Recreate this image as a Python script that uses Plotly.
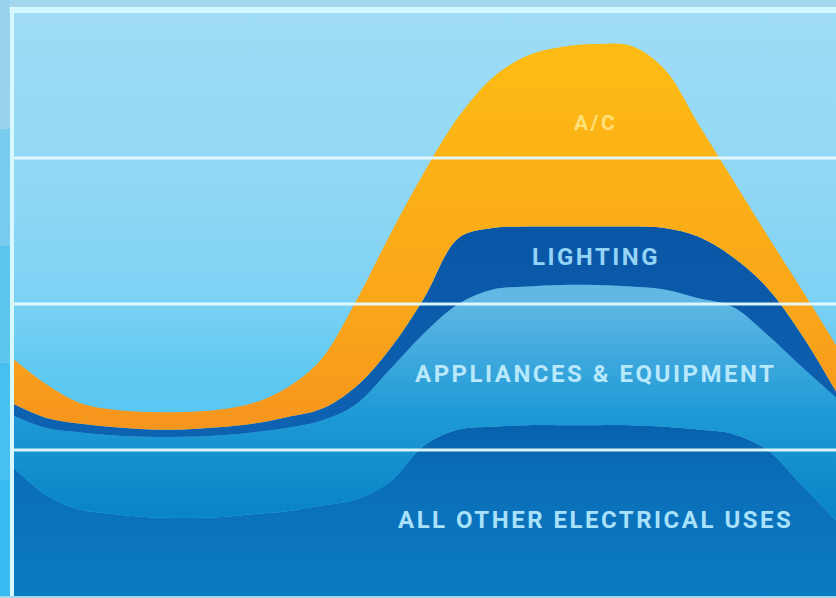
import plotly.graph_objects as go

# Hour of day (0-24) for each sample of the daily load profile
hours = list(range(25))

# Stacked electricity demand by end use (arbitrary load units)
all_other = [0.89, 0.69, 0.59, 0.56, 0.54, 0.54, 0.54, 0.56, 0.58, 0.62, 0.66, 0.78, 1.03,
             1.14, 1.16, 1.17, 1.17, 1.17, 1.17, 1.16, 1.14, 1.11, 1.00, 0.76, 0.52]
appliances = [0.35, 0.46, 0.53, 0.54, 0.55, 0.55, 0.56, 0.56, 0.57, 0.58, 0.65, 0.77, 0.77,
              0.86, 0.94, 0.95, 0.96, 0.96, 0.95, 0.94, 0.90, 0.87, 0.79, 0.81, 0.84]
lighting = [0.08, 0.07, 0.06, 0.055, 0.05, 0.05, 0.055, 0.06, 0.075, 0.08, 0.12, 0.14, 0.24,
            0.45, 0.42, 0.41, 0.40, 0.40, 0.41, 0.42, 0.42, 0.34, 0.32, 0.22, 0.04]
ac = [0.31, 0.23, 0.14, 0.12, 0.12, 0.12, 0.12, 0.14, 0.20, 0.34, 0.58, 0.78, 0.86,
      0.83, 1.03, 1.17, 1.23, 1.25, 1.24, 1.09, 0.77, 0.53, 0.36, 0.31, 0.32]

series_names = ["ALL OTHER ELECTRICAL USES", "APPLIANCES & EQUIPMENT", "LIGHTING", "A/C"]
label_hour = [17.0, 17.0, 17.0, 17.0]
label_level = [0.52, 1.52, 2.32, 3.24]
label_colors = ["#a9e1fa", "#b8e8fb", "#93d3f6", "#ffe07a"]
label_sizes = [24, 24, 24, 21]

Y_MAX = 4
grid_levels = [1, 2, 3]

fig = go.Figure()

# sky-blue backdrop with a vertical gradient
fig.add_trace(go.Scatter(
    x=[0, 24, 24, 0, 0], y=[0, 0, Y_MAX, Y_MAX, 0],
    mode="lines", line=dict(width=0), fill="toself",
    fillgradient=dict(type="vertical", start=0, stop=Y_MAX,
                      colorscale=[[0, "#3fbdf0"], [0.38, "#5fc9f2"], [0.52, "#7fd2f4"],
                                  [0.75, "#93d9f5"], [1, "#a0dcf5"]]),
    hoverinfo="skip", showlegend=False))

layers = [
    (all_other, dict(start=0, stop=1.2,
                     colorscale=[[0, "#0b7bc2"], [0.7, "#0a6db8"], [1, "#0760ad"]])),
    (appliances, dict(start=0.6, stop=2.05,
                      colorscale=[[0, "#0a86c7"], [0.45, "#1e9ad6"], [1, "#62b8e4"]])),
    (lighting, dict(start=1.0, stop=2.5,
                    colorscale=[[0, "#0d63b2"], [1, "#0a56a6"]])),
    (ac, dict(start=0.9, stop=3.8,
              colorscale=[[0, "#f5901f"], [0.35, "#faa51a"], [1, "#fdbc13"]])),
]

for name, (vals, grad) in zip(series_names, layers):
    fig.add_trace(go.Scatter(
        x=hours, y=vals, name=name, stackgroup="load",
        mode="lines", line=dict(width=0, shape="spline", smoothing=1.0),
        fillgradient=dict(type="vertical", **grad),
        hoverinfo="skip", showlegend=False))

shapes = []
# white horizontal guide lines drawn over the areas
for lv in grid_levels:
    shapes.append(dict(type="line", xref="paper", x0=0, x1=1, yref="y", y0=lv, y1=lv,
                       line=dict(color="rgba(228,250,255,0.95)", width=3), layer="above"))
# strip to the left of the frame, shading from pale to cyan
strip = [(0.0, 0.2, "#37bbf0"), (0.2, 0.4, "#45c0f0"), (0.4, 0.6, "#5ac6ef"),
         (0.6, 0.8, "#78ccee"), (0.8, 1.03, "#97d3ec")]
for y0, y1, c in strip:
    shapes.append(dict(type="rect", xref="paper", x0=-0.02, x1=-0.0025, yref="paper",
                       y0=y0, y1=y1, fillcolor=c, line=dict(width=0), layer="above"))
# frame: top and left edges
shapes.append(dict(type="line", xref="paper", x0=-0.003, x1=1, yref="paper", y0=1.0035, y1=1.0035,
                   line=dict(color="#d4f8ff", width=6), layer="above"))
shapes.append(dict(type="line", xref="paper", x0=0, x1=0, yref="paper", y0=0, y1=1.008,
                   line=dict(color="#d8f8ff", width=4), layer="above"))

annotations = []
for name, hx, lv, col, sz in zip(series_names, label_hour, label_level, label_colors, label_sizes):
    annotations.append(dict(
        x=hx, y=lv, xref="x", yref="y", showarrow=False,
        text=f'<span style="letter-spacing:2.5px">{name}</span>',
        font=dict(family="Roboto", size=sz, color=col, weight="bold")))

fig.update_layout(
    width=836, height=598,
    margin=dict(l=12, r=0, t=12, b=2),
    paper_bgcolor="#a3d6ed", plot_bgcolor="#8fd6f4",
    xaxis=dict(range=[0, 24], visible=False, fixedrange=True),
    yaxis=dict(range=[0, Y_MAX], visible=False, fixedrange=True),
    shapes=shapes, annotations=annotations, showlegend=False,
)

fig.write_html("out.html")
